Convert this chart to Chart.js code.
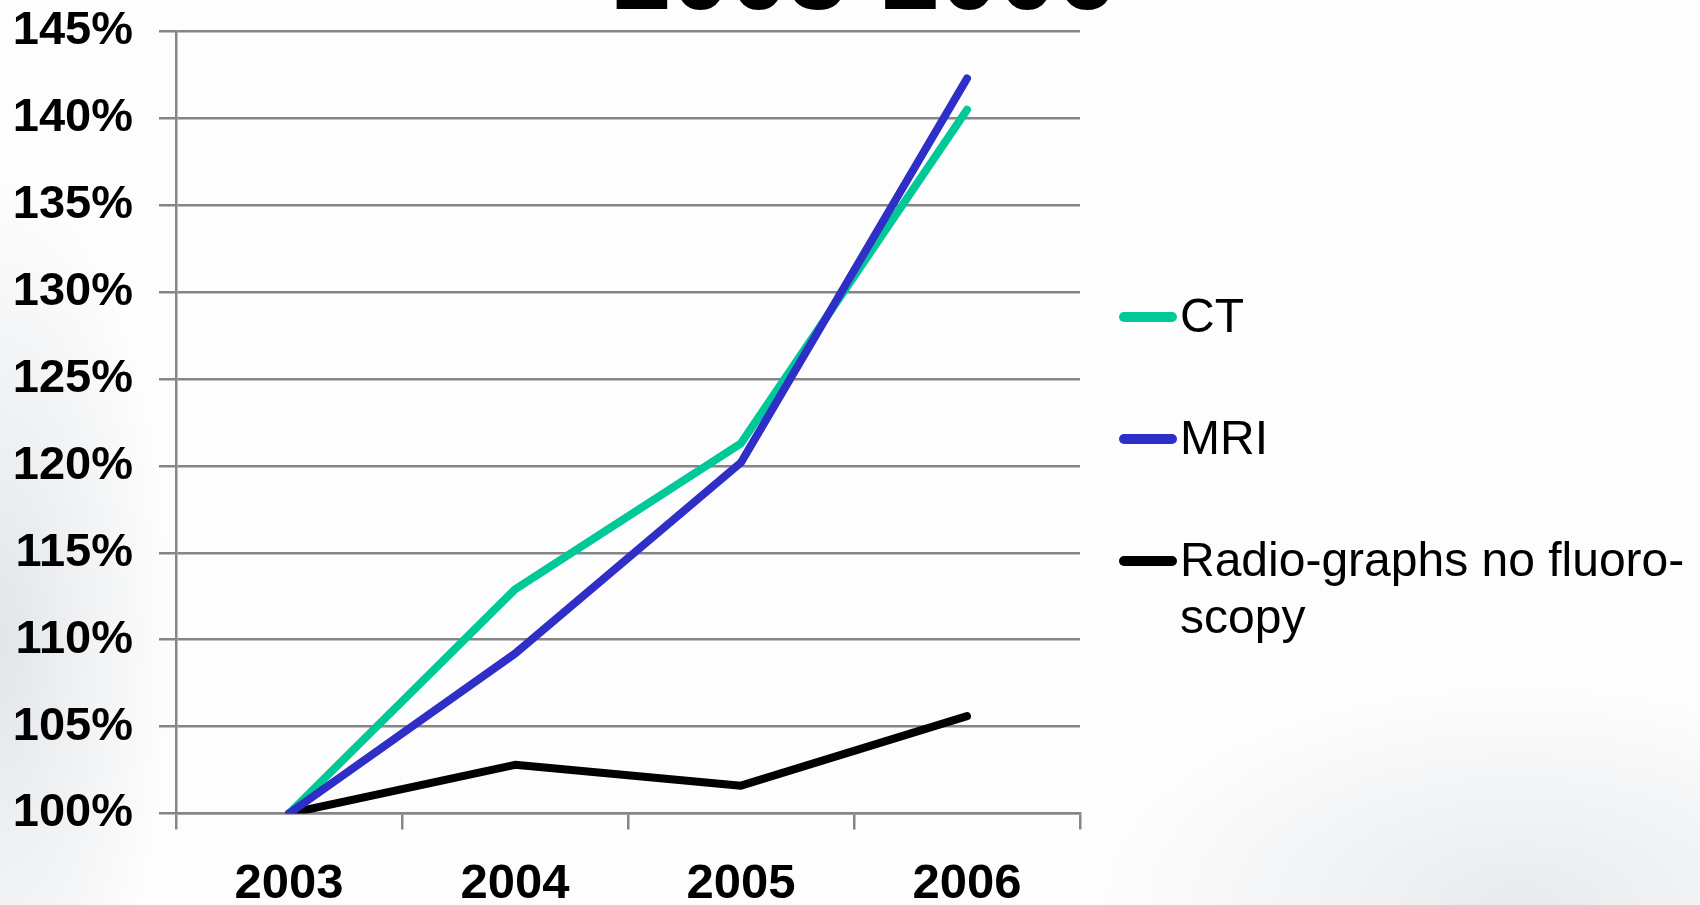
<!DOCTYPE html>
<html>
<head>
<meta charset="utf-8">
<title>CT, MRI and radiographs 2003-2006</title>
<script src="https://cdn.jsdelivr.net/npm/chart.js@4.4.0/dist/chart.umd.min.js"></script>
<style>
	html, body { margin: 0; padding: 0; }
	body { width: 1700px; height: 905px; overflow: hidden; position: relative; background: #fff; }
	#bg {
		position: absolute; left: 0; top: 0; width: 1700px; height: 905px;
		background:
			radial-gradient(ellipse 170px 460px at 0px 640px, rgba(200,207,214,0.5), rgba(255,255,255,0) 100%),
			radial-gradient(ellipse 420px 220px at 1520px 905px, rgba(214,219,224,0.55), rgba(255,255,255,0) 100%),
			#fdfdfd;
	}
	#title {
		position: absolute; left: 613px; top: -80px; margin: 0;
		font: bold 105px "Liberation Sans", Arial, sans-serif; line-height: 105px; color: #000;
		white-space: nowrap;
	}
	#wrap { position: absolute; left: 0; top: 0; width: 1700px; height: 905px; }
</style>
</head>
<body>
<div id="bg"></div>
<h1 id="title">2003-2006</h1>
<div id="wrap"><canvas id="chart" width="1700" height="905"></canvas></div>
<script>
(function(){
	// data (percent of the 2003 level)
	const years = ['2003', '2004', '2005', '2006'];
	const ctValues = [100, 112.9, 121.3, 140.5];
	const mriValues = [100, 109.2, 120.2, 142.3];
	const radioValues = [100, 102.8, 101.6, 105.6];
	const seriesNames = ['CT', 'MRI', 'Radio-graphs no fluoro-scopy'];
	const legendLines = [['CT'], ['MRI'], ['Radio-graphs no fluoro-', 'scopy']];
	const seriesColors = ['#00c896', '#2f2fc8', '#000000'];

	const FONT = '"Liberation Sans", Arial, sans-serif';
	const GRID = '#858585';

	// legend drawn to the right of the plot, like the slide
	const sideLegend = {
		id: 'sideLegend',
		afterDraw(chart){
			const ctx = chart.ctx;
			ctx.save();
			ctx.font = '48px ' + FONT;
			ctx.textBaseline = 'middle';
			ctx.textAlign = 'left';
			ctx.fillStyle = '#000';
			chart.data.datasets.forEach((ds, i) => {
				const y = 317 + i * 122;
				ctx.strokeStyle = ds.borderColor;
				ctx.lineWidth = 10;
				ctx.lineCap = 'round';
				ctx.beginPath(); ctx.moveTo(1124, y); ctx.lineTo(1172, y); ctx.stroke();
				legendLines[i].forEach((t, k) => ctx.fillText(t, 1180, y + 2 + k * 57));
			});
			ctx.restore();
		}
	};

	function makeSet(i, values, order){
		return {
			label: seriesNames[i],
			data: values,
			borderColor: seriesColors[i],
			backgroundColor: seriesColors[i],
			borderWidth: 8,
			borderCapStyle: 'round',
			borderJoinStyle: 'round',
			pointRadius: 0,
			tension: 0,
			order: order
		};
	}

	new Chart(document.getElementById('chart').getContext('2d'), {
		type: 'line',
		data: {
			labels: years,
			datasets: [
				makeSet(0, ctValues, 1),
				makeSet(1, mriValues, 0),
				makeSet(2, radioValues, 2)
			]
		},
		options: {
			responsive: false,
			animation: false,
			layout: { padding: { top: 31.5, right: 620, left: 0, bottom: 0 } },
			plugins: { legend: { display: false }, tooltip: { enabled: false }, title: { display: false } },
			scales: {
				x: {
					offset: true,
					grid: { offset: true, drawOnChartArea: false, drawTicks: true, tickLength: 16, color: GRID, lineWidth: 2.5 },
					border: { display: true, color: GRID, width: 2.5 },
					ticks: { color: '#000', padding: 26, font: { family: FONT, size: 49, weight: 'bold' } },
					afterFit(s){ s.height = 91.5; s.paddingLeft = 0; s.paddingRight = 0; }
				},
				y: {
					min: 100,
					max: 145,
					ticks: { stepSize: 5, color: '#000', padding: 26, callback: v => v + '%', font: { family: FONT, size: 47, weight: 'bold' } },
					grid: { color: GRID, lineWidth: 2.5, tickLength: 17 },
					border: { display: true, color: GRID, width: 2.5 },
					afterFit(s){ s.width = 176; s.paddingTop = 0; s.paddingBottom = 0; }
				}
			}
		},
		plugins: [sideLegend]
	});
})();
</script>
</body>
</html>
